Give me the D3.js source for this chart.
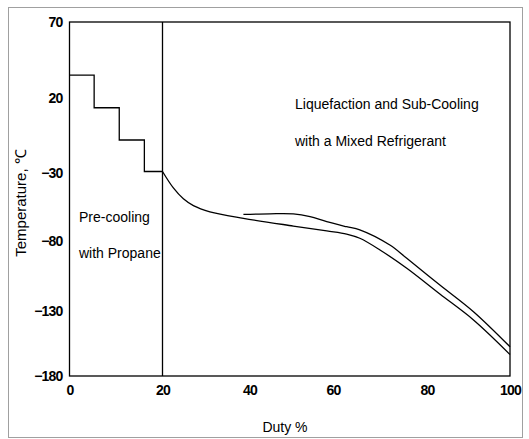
<!DOCTYPE html>
<html>
<head>
<meta charset="utf-8">
<script src="https://cdn.jsdelivr.net/npm/d3@7"></script>
<style>
  body { margin: 0; background: #fff; }
  svg text { font-family: "Liberation Sans", Arial, sans-serif; fill: #000; }
</style>
</head>
<body>
<div id="chart"></div>
<script>
// tick labels (the original figure spaces them a little unevenly)
const xTicks = [0, 20, 40, 60, 80, 100];
const yTicks = [70, 20, -30, -80, -130, -180];

// propane pre-cooling stages (duty %, temperature)
const stageDuty = [0, 5.3, 10.7, 16.1, 20];
const stageTemp = [35, 13.5, -8, -29, -29];

// natural gas cooling curve
const gasDuty = [20, 22.5, 24.8, 27.1, 30.9, 38.6, 50.5, 58.5, 62.9, 65.7, 70, 75.7, 83.1, 91.2, 100];
const gasTemp = [-29, -41, -49, -54, -58.5, -63.3, -69, -72.6, -74.9, -78, -86.4, -99.5, -117.9, -136.9, -163.5];

// mixed refrigerant curve
const mrDuty = [38.6, 44.9, 50.5, 54.5, 58.5, 62.9, 65.7, 72.1, 75.7, 83.1, 91.2, 100];
const mrTemp = [-60.4, -60, -60.1, -62.1, -65.8, -69.5, -71.8, -82.9, -92.4, -111.4, -130.5, -157.5];

const width = 529, height = 439;

const svg = d3.select('#chart').append('svg')
  .attr('width', width)
  .attr('height', height);

// outer frame
svg.append('rect')
  .attr('x', 8.5).attr('y', 7.5)
  .attr('width', 514).attr('height', 430)
  .attr('fill', 'none')
  .attr('stroke', '#a0a0a0')
  .attr('stroke-width', 1);

const x = d3.scaleLinear()
  .domain(xTicks)
  .range([69.5, 162.5, 249.5, 333, 427, 510]);
const y = d3.scaleLinear()
  .domain(yTicks)
  .range([22, 98, 173, 241, 311, 376]);

const fmt = d3.format('d');

const xAxis = svg.append('g')
  .attr('transform', `translate(0,${y(-180)})`)
  .call(d3.axisBottom(x).tickValues(xTicks).tickSize(0).tickPadding(9).tickFormat(fmt));
const yAxis = svg.append('g')
  .attr('transform', `translate(${x(0)},0)`)
  .call(d3.axisLeft(y).tickValues(yTicks).tickSize(0).tickPadding(7).tickFormat(fmt));

[xAxis, yAxis].forEach((g) => {
  g.select('.domain').remove();
  g.selectAll('text')
    .attr('font-size', 14)
    .attr('font-weight', 'bold')
    .attr('letter-spacing', '-0.8px')
    .attr('font-family', '"Liberation Sans", Arial, sans-serif');
});
yAxis.selectAll('text').attr('dy', '0.35em');

// plot frame
svg.append('rect')
  .attr('x', x(0)).attr('y', y(70))
  .attr('width', x(100) - x(0)).attr('height', y(-180) - y(70))
  .attr('fill', 'none')
  .attr('stroke', '#000')
  .attr('stroke-width', 1.3);

// divider between the two cooling sections
svg.append('line')
  .attr('x1', x(20)).attr('x2', x(20))
  .attr('y1', y(70)).attr('y2', y(-180))
  .attr('stroke', '#000')
  .attr('stroke-width', 1.3);

const stepLine = d3.line()
  .x((d, i) => x(stageDuty[i]))
  .y((d, i) => y(stageTemp[i]))
  .curve(d3.curveStepAfter);

svg.append('path')
  .attr('d', stepLine(stageDuty))
  .attr('fill', 'none')
  .attr('stroke', '#000')
  .attr('stroke-width', 1.3);

function curve(duty, temp) {
  return d3.line()
    .x((d, i) => x(duty[i]))
    .y((d, i) => y(temp[i]))
    .curve(d3.curveCatmullRom.alpha(0.5))(duty);
}

svg.append('path')
  .attr('d', curve(gasDuty, gasTemp))
  .attr('fill', 'none')
  .attr('stroke', '#000')
  .attr('stroke-width', 1.3);

svg.append('path')
  .attr('d', curve(mrDuty, mrTemp))
  .attr('fill', 'none')
  .attr('stroke', '#000')
  .attr('stroke-width', 1.3);

// annotations
const notes = [
  { text: 'Liquefaction and Sub-Cooling', px: 295, py: 109 },
  { text: 'with a Mixed Refrigerant', px: 295, py: 146 },
  { text: 'Pre-cooling', px: 79, py: 222 },
  { text: 'with Propane', px: 79, py: 258 }
];
svg.selectAll('.note')
  .data(notes)
  .join('text')
  .attr('class', 'note')
  .attr('x', (d) => d.px)
  .attr('y', (d) => d.py)
  .attr('font-size', 14)
  .text((d) => d.text);

svg.append('text')
  .attr('x', 285)
  .attr('y', 432)
  .attr('text-anchor', 'middle')
  .attr('font-size', 14)
  .text('Duty %');

svg.append('text')
  .attr('transform', 'translate(26,203) rotate(-90)')
  .attr('text-anchor', 'middle')
  .attr('font-size', 15)
  .text('Temperature, ℃');
</script>
</body>
</html>
